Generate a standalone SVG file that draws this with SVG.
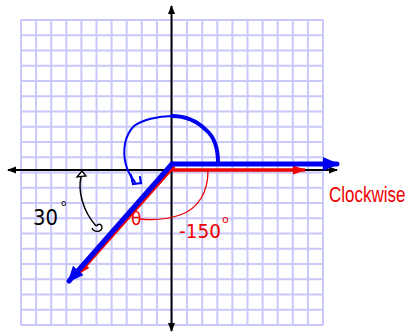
<svg xmlns="http://www.w3.org/2000/svg" width="407" height="334" viewBox="0 0 407 334">
<style>
.grid{stroke:#c8c8fa;stroke-width:2;fill:none}
.axis{stroke:#000;stroke-width:2;fill:none}
.blue{stroke:#0000f0;stroke-width:5;fill:none;stroke-linecap:round;stroke-linejoin:round}
.red{stroke:#f00000;stroke-width:3.5;fill:none}
.barc{stroke:#0000f0;fill:none;stroke-linecap:round}
.rarc{stroke:#f00000;stroke-width:1.3;fill:none}
.hand{font-family:"DejaVu Sans","Liberation Sans",sans-serif}
</style>
<defs>
<marker id="ab" markerUnits="userSpaceOnUse" markerWidth="18" markerHeight="16" refX="14" refY="8" orient="auto"><path d="M0,1 L16,8 L0,15 Z" fill="#0000f0"/></marker>
<marker id="ar" markerUnits="userSpaceOnUse" markerWidth="14" markerHeight="10" refX="12" refY="5" orient="auto"><path d="M0,0.5 L13,5 L0,9.5 Z" fill="#f00000"/></marker>
<marker id="ak" markerUnits="userSpaceOnUse" markerWidth="10" markerHeight="8" refX="8" refY="4" orient="auto"><path d="M0,0.5 L9,4 L0,7.5 Z" fill="#000"/></marker>
</defs>
<rect width="407" height="334" fill="#fff"/>
<g id="grid">
<path class="grid" d="M21,20V325M36.1,20V325M51.2,20V325M66.3,20V325M81.4,20V325M96.5,20V325M111.6,20V325M126.7,20V325M141.8,20V325M156.9,20V325M172,20V325M187.1,20V325M202.2,20V325M217.3,20V325M232.4,20V325M247.5,20V325M262.6,20V325M277.7,20V325M292.8,20V325M307.9,20V325M323,20V325"/>
<path class="grid" d="M21,20H323M21,35.25H323M21,50.5H323M21,65.75H323M21,81H323M21,96.25H323M21,111.5H323M21,126.75H323M21,142H323M21,157.25H323M21,172.5H323M21,187.75H323M21,203H323M21,218.25H323M21,233.5H323M21,248.75H323M21,264H323M21,279.25H323M21,294.5H323M21,309.75H323M21,325H323"/>
</g>
<g id="axes">
<path class="axis" d="M172,170H8" marker-end="url(#ak)"/>
<path class="axis" d="M172,170H337" marker-end="url(#ak)"/>
<path class="axis" d="M171.5,170V6" marker-end="url(#ak)"/>
<path class="axis" d="M171.5,170V331" marker-end="url(#ak)"/>
</g>
<g id="connectors">
<path class="red" d="M172,170H305" marker-end="url(#ar)"/>
<path class="red" d="M174,166L78,274" marker-end="url(#ar)"/>
<path class="blue" d="M172,164H337" marker-end="url(#ab)"/>
<path class="blue" d="M172,164L69,281" marker-end="url(#ab)"/>
<path class="barc" stroke-width="4" d="M218,163C218,150 216,138 206,130C196,120 185,116 172,116"/>
<path class="barc" stroke-width="2" d="M172,116C158,116 142,120 134,126C125,135 122,150 126,165C128,173 132,178 135,182"/>
<path class="barc" stroke-width="2.2" d="M131,175L133,184L141,183L140,177"/>
<path class="rarc" d="M208,171C208,190 200,208 180,215C165,220 150,220 140,219"/>
<path stroke="#000" stroke-width="1.5" fill="none" d="M81,177C78,190 82,210 96,226"/>
<path stroke="#000" stroke-width="1.3" fill="#fff" d="M77,177L82,171L86,176Z"/>
<path stroke="#000" stroke-width="1.3" fill="none" d="M92,228C94,233 101,232 102,228C102,224 99,223 96,226"/>
</g>
<g id="labels">
<text class="hand" x="131" y="225" font-size="17" fill="#f00000">θ</text>
<text class="hand" x="179" y="238" font-size="19" fill="#f00000" textLength="42" lengthAdjust="spacingAndGlyphs">-150</text>
<text class="hand" x="222" y="223" font-size="11" fill="#f00000">o</text>
<text transform="translate(329,202) scale(1,1.25)" font-family="Liberation Sans, Arial, sans-serif" font-size="17" fill="#f00000">Clockwise</text>
<text class="hand" x="33" y="225" font-size="22" fill="#000" textLength="25" lengthAdjust="spacingAndGlyphs">30</text>
<text class="hand" x="61" y="206" font-size="9" fill="#000">o</text>
</g>
</svg>
